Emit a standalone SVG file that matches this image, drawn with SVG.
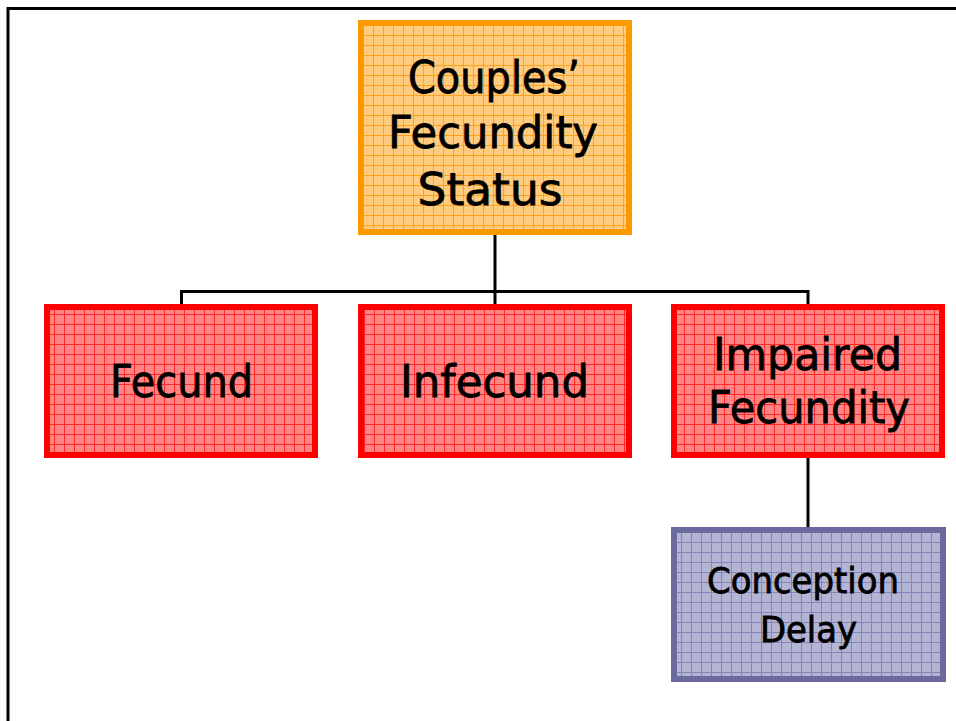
<svg xmlns="http://www.w3.org/2000/svg" width="956" height="721" viewBox="0 0 956 721">
  <defs>
    <pattern id="gridOrange" width="10" height="10" patternUnits="userSpaceOnUse" x="3" y="5">
      <rect width="10" height="10" fill="#FFCB7F"/>
      <path d="M0 0.5H10M0.5 0V10" stroke="#FFA21A" stroke-width="1" fill="none"/>
    </pattern>
    <pattern id="gridRed" width="10" height="10" patternUnits="userSpaceOnUse" x="4" y="4">
      <rect width="10" height="10" fill="#FF8585"/>
      <path d="M0 0.5H10M0.5 0V10" stroke="#FF2A2A" stroke-width="1" fill="none"/>
    </pattern>
    <pattern id="gridBlue" width="10" height="10" patternUnits="userSpaceOnUse" x="1" y="2">
      <rect width="10" height="10" fill="#B4B4D4"/>
      <path d="M0 0.5H10M0.5 0V10" stroke="#8585B5" stroke-width="1" fill="none"/>
    </pattern>
  </defs>
  <style>
    .frame { fill: none; stroke: #000; stroke-width: 3; }
    .link { fill: none; stroke: #000; stroke-width: 3; }
    .box { stroke-width: 6; }
    .orange { fill: url(#gridOrange); stroke: #FF9900; }
    .red { fill: url(#gridRed); stroke: #FF0000; }
    .blue { fill: url(#gridBlue); stroke: #6A6A9E; }
    text { font-family: "DejaVu Sans", "Liberation Sans", sans-serif; fill: #000; stroke: #000; stroke-width: 0.8; text-anchor: middle; }
    .big { font-size: 44px; }
    .small { font-size: 35px; }
  </style>

  <rect width="956" height="721" fill="#fff"/>
  <path class="frame" d="M8 721V8.5H956"/>

  <g id="connectors">
    <path class="link" d="M495 234V291.5"/>
    <path class="link" d="M181.5 304V291.5H808V304"/>
    <path class="link" d="M495 291.5V304"/>
    <path class="link" d="M808 458V527"/>
  </g>

  <g id="couples-fecundity-status">
    <rect class="box orange" x="361" y="23" width="268" height="209"/>
    <text class="big" x="494" y="93" textLength="172" lengthAdjust="spacingAndGlyphs">Couples’</text>
    <text class="big" x="493" y="148" textLength="210" lengthAdjust="spacingAndGlyphs">Fecundity</text>
    <text class="big" x="490" y="205" textLength="145" lengthAdjust="spacingAndGlyphs">Status</text>
  </g>

  <g id="fecund">
    <rect class="box red" x="47" y="307" width="268" height="148"/>
    <text class="big" x="181.5" y="397" textLength="143" lengthAdjust="spacingAndGlyphs">Fecund</text>
  </g>

  <g id="infecund">
    <rect class="box red" x="361" y="307" width="268" height="148"/>
    <text class="big" x="494.5" y="397" textLength="189" lengthAdjust="spacingAndGlyphs">Infecund</text>
  </g>

  <g id="impaired-fecundity">
    <rect class="box red" x="674" y="307" width="268" height="148"/>
    <text class="big" x="807.5" y="370" textLength="189" lengthAdjust="spacingAndGlyphs">Impaired</text>
    <text class="big" x="809" y="423" textLength="202" lengthAdjust="spacingAndGlyphs">Fecundity</text>
  </g>

  <g id="conception-delay">
    <rect class="box blue" x="674" y="530" width="269" height="149"/>
    <text class="small" x="803" y="593" textLength="192" lengthAdjust="spacingAndGlyphs">Conception</text>
    <text class="small" x="808.5" y="642" textLength="97" lengthAdjust="spacingAndGlyphs">Delay</text>
  </g>
</svg>
